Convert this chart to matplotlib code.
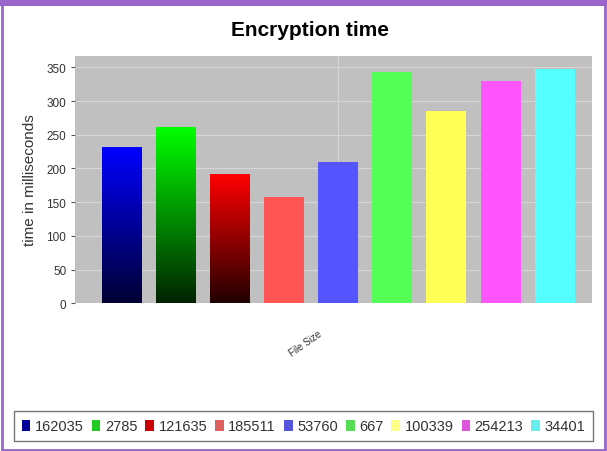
import matplotlib.pyplot as plt
import numpy as np
from matplotlib.patches import Patch, Rectangle
from matplotlib.colors import LinearSegmentedColormap

plt.rcParams['font.family'] = 'Liberation Sans'

# File sizes (legend entries) and encryption time in ms
file_sizes = ['162035', '2785', '121635', '185511', '53760', '667', '100339', '254213', '34401']
enc_time = [231, 261, 191, 158, 209, 343, 285, 330, 348]

# top colour / bottom colour for each bar (gradient for the first three)
top_colors = ['#0000ff', '#00ff00', '#ff0000', '#ff5555', '#5555ff',
              '#55ff55', '#ffff55', '#ff55ff', '#55ffff']
bottom_colors = ['#000033', '#002200', '#220000', '#ff5555', '#5555ff',
                 '#55ff55', '#ffff55', '#ff55ff', '#55ffff']
legend_colors = ['#000099', '#22cc22', '#cc0000', '#e06060', '#5555dd',
                 '#55dd55', '#ffff88', '#dd55dd', '#66eeee']

fig = plt.figure(figsize=(6.07, 4.52), dpi=100)
fig.patch.set_facecolor('white')
ax = fig.add_axes([0.124, 0.327, 0.851, 0.547])
ax.set_facecolor('#c0c0c0')

x = np.arange(len(enc_time))
width = 0.74
bars = ax.bar(x, enc_time, width=width, color=top_colors, zorder=2)

# vertical gradient inside each bar
grad = np.linspace(0, 1, 256).reshape(-1, 1)
for b, c_top, c_bot in zip(bars, top_colors, bottom_colors):
    if c_top == c_bot:
        continue
    cmap = LinearSegmentedColormap.from_list('g', [c_bot, c_top])
    x0, w, h = b.get_x(), b.get_width(), b.get_height()
    ax.imshow(grad, cmap=cmap, aspect='auto', origin='lower',
              extent=(x0, x0 + w, 0, h), zorder=3)

ax.set_xlim(-0.87, 8.69)
ax.set_ylim(0, 367)
ax.set_yticks(np.arange(0, 351, 50))
ax.set_xticks([])
ax.grid(axis='y', color='#d6d6d6', lw=0.8, zorder=1)
ax.axvline(4, color='#d6d6d6', lw=0.8, zorder=1)
for s in ax.spines.values():
    s.set_visible(False)
ax.tick_params(axis='y', labelsize=8.5, colors='#555555', length=3, labelcolor='#333333')

ax.set_ylabel('time in milliseconds', fontsize=11, color='#333333', labelpad=7)
ax.text(0.445, -0.16, 'File Size', transform=ax.transAxes, rotation=35,
        fontsize=7, color='#333333', ha='center', va='center')
fig.text(0.51, 0.933, 'Encryption time', fontsize=15, fontweight='bold',
         ha='center', va='center')

# legend along the bottom
handles = [Patch(facecolor=c, edgecolor='none') for c in legend_colors]
leg = fig.legend(handles, file_sizes, loc='lower center', bbox_to_anchor=(0.5, 0.012),
                 ncol=9, fontsize=10.5, frameon=True, fancybox=False,
                 handlelength=0.6, handleheight=0.8, handletextpad=0.3,
                 columnspacing=0.55, borderpad=0.55, borderaxespad=0.3)
leg.get_frame().set_edgecolor('#555555')
leg.get_frame().set_linewidth(1.0)
for t in leg.get_texts():
    t.set_color('#333333')

# purple frame around the figure
fig.patches.append(Rectangle((0.003, 0.003), 0.994, 0.99, transform=fig.transFigure,
                             fill=False, edgecolor='#9a66cc', lw=2))
fig.patches.append(Rectangle((0, 0.985), 1, 0.015, transform=fig.transFigure,
                             facecolor='#9a66cc', edgecolor='none'))

fig.savefig('out.png', dpi=100)
